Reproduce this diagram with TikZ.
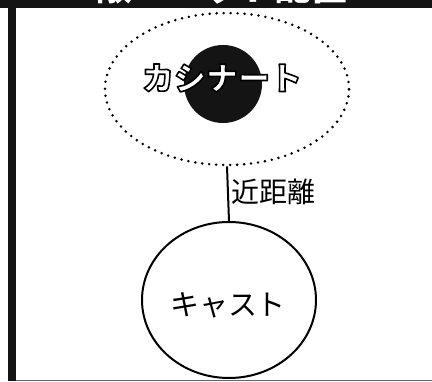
\documentclass[tikz,border=0pt]{standalone}
\usepackage{fontspec}
\newfontfamily\cjk{Noto Sans CJK JP}
\usetikzlibrary{shapes.geometric}
\newcommand\outlinetext[1]{{\color{white}\special{pdf:literal direct 0 G 1.6 w 1 j 2 Tr}#1\special{pdf:literal direct 0 Tr}}}
\begin{document}
\begin{tikzpicture}[x=1pt,y=-1pt,
  lbl/.style={font=\cjk, inner sep=0pt},
  dotline/.style={line width=2.8pt, line cap=round, dash pattern=on 0pt off 7pt}]
\useasboundingbox (0,0) rectangle (432,382);
\fill[white] (0,0) rectangle (432,382);
% banner
\begin{scope}
\clip (0,0) rectangle (432,8);
\fill[black!92] (0,0) rectangle (432,8);
\node[font=\cjk\bfseries\fontsize{36}{36}\selectfont, text=white, anchor=base, inner sep=0pt] (title) at (222,0.5) {敵ユニット配置};
\end{scope}
% frame
\fill[black!92] (8,0) rectangle (16,381);
\draw[black!60, line width=1pt] (16,380.5) -- (432,380.5);
% top ellipse
\node[ellipse, draw, dotline, minimum width=244pt, minimum height=152pt, inner sep=0pt] (grp) at (227,89) {};
\node[circle, fill=black!92, minimum size=78pt, inner sep=0pt] (dot) at (223,84) {};
\node[font=\cjk\bfseries\fontsize{32}{32}\selectfont, inner sep=0pt] (kas) at (222,78) {\outlinetext{カシナート}};
% bottom ellipse
\node[ellipse, draw, line width=2pt, minimum width=174pt, minimum height=156pt, inner sep=0pt] (cast) at (229,300) {};
\node[lbl, font=\cjk\fontsize{29}{29}\selectfont] (castt) at (228,305) {キャスト};
% connector
\draw[line width=2pt] (grp.south) -- (cast.north) node[midway, right=2pt, yshift=2pt, font=\cjk\fontsize{28}{28}\selectfont, inner sep=0pt] (dist) {近距離};
\end{tikzpicture}
\end{document}
